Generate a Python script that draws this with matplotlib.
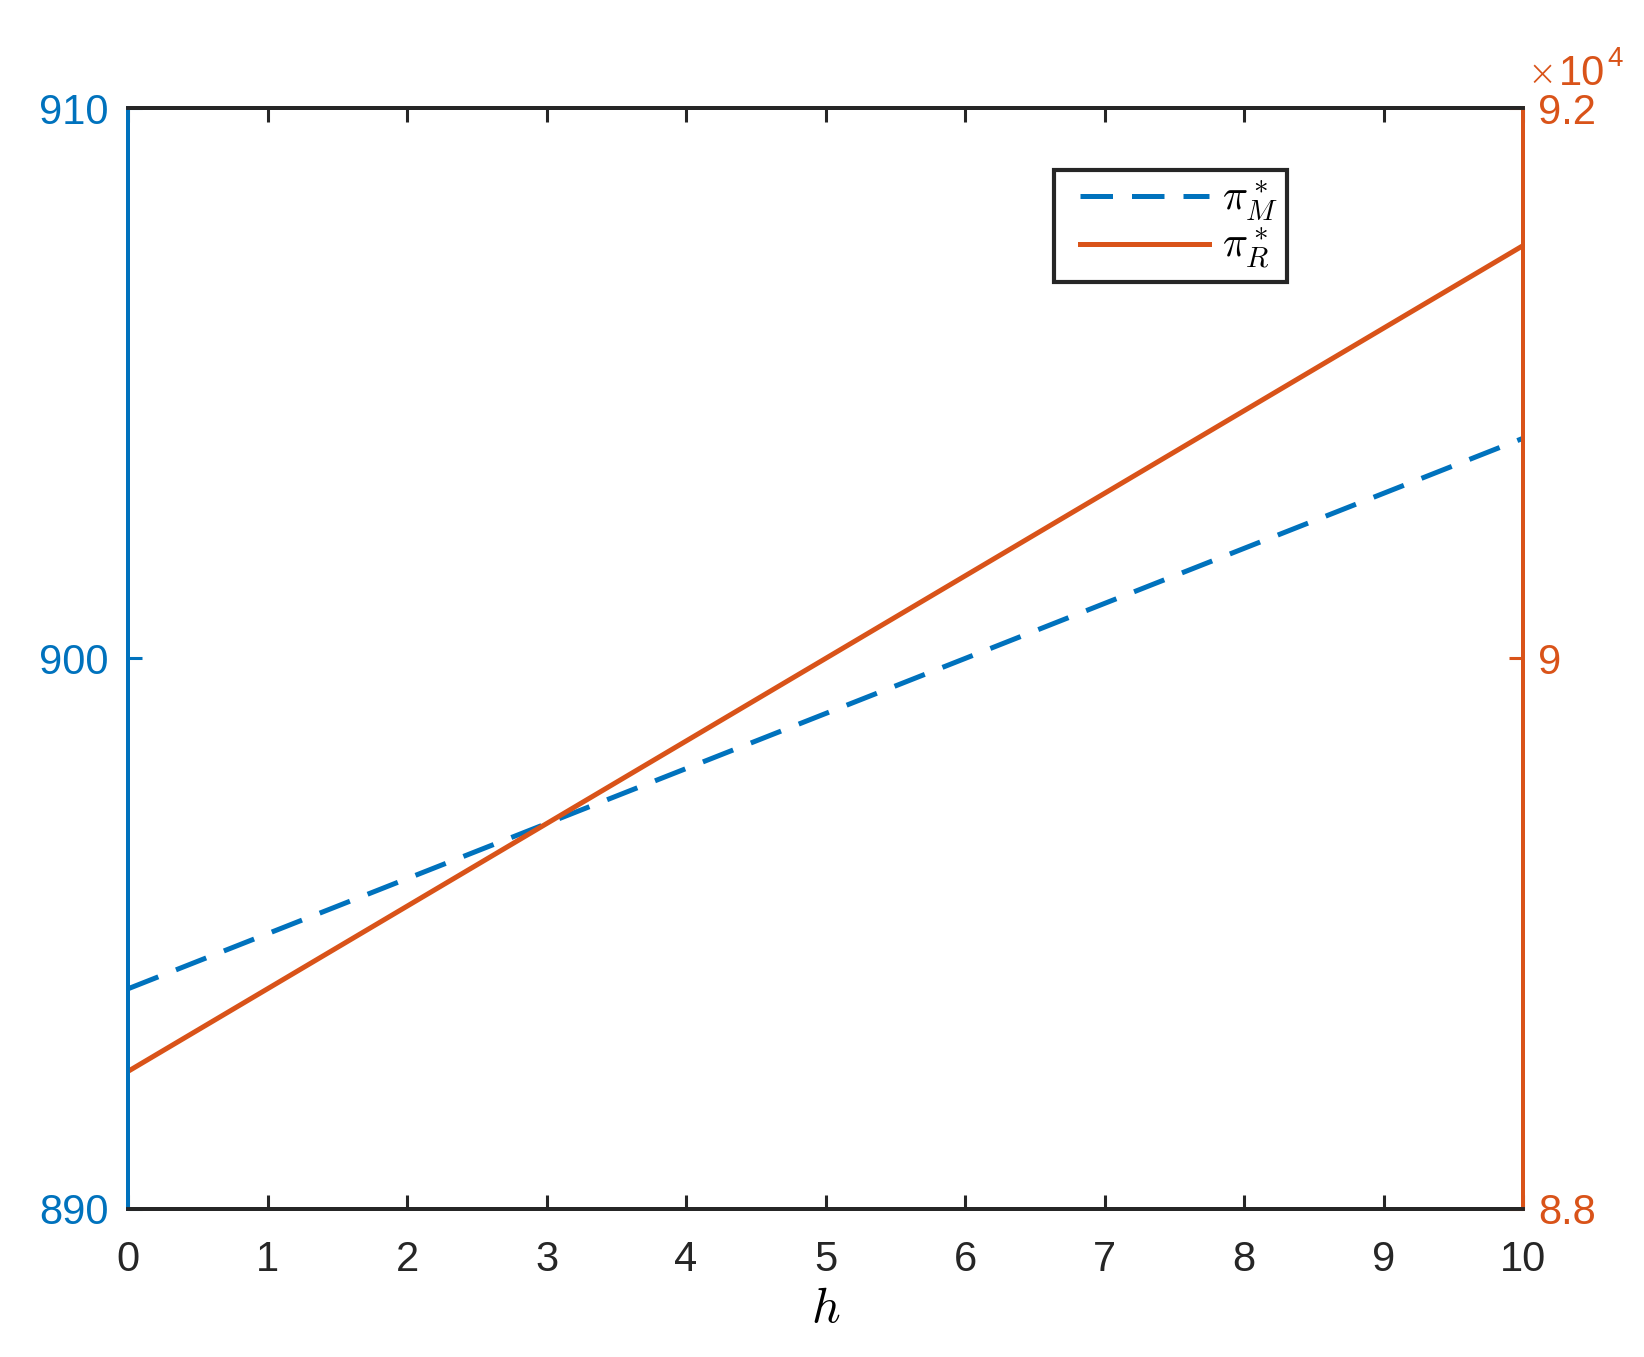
import matplotlib
matplotlib.use("Agg")
import matplotlib.pyplot as plt
from matplotlib.lines import Line2D
from matplotlib.legend_handler import HandlerLine2D
from matplotlib.ticker import FuncFormatter

# values
h = [0, 1, 2, 3, 4, 5, 6, 7, 8, 9, 10]
pi_M = [894.0, 895.0, 896.0, 897.0, 898.0, 899.0, 900.0, 901.0, 902.0, 903.0, 904.0]
pi_R = [88500, 88800, 89100, 89400, 89700, 90000, 90300, 90600, 90900, 91200, 91500]

left_ticks = [890, 900, 910]
right_ticks = [88000, 90000, 92000]

blue = "#0072BD"
orange = "#D95319"
dark = "#262626"

plt.rcParams['font.family'] = ['Liberation Sans', 'DejaVu Sans']
plt.rcParams['mathtext.fontset'] = 'cm'

fig = plt.figure(figsize=(16.44, 13.57), dpi=100)
ax = fig.add_axes([0.0779, 0.1091, 0.8485, 0.8113])
ax2 = ax.twinx()

l1, = ax.plot(h, pi_M, color=blue, lw=3.6, linestyle=(0, (6.5, 3.8)), label=r'$\pi^*_M$')
l2, = ax2.plot(h, pi_R, color=orange, lw=3.6, label=r'$\pi^*_R$')

ax.set_xlim(0, 10)
ax.set_ylim(890, 910)
ax2.set_ylim(88000, 92000)
ax.set_xticks(range(0, 11))
ax.set_yticks(left_ticks)
ax2.set_yticks(right_ticks)
ax2.yaxis.set_major_formatter(FuncFormatter(lambda v, p: '%g' % (v / 1e4)))

for a in (ax, ax2):
    a.spines['top'].set_color(dark)
    a.spines['bottom'].set_color(dark)
    a.spines['left'].set_color(blue)
    a.spines['right'].set_color(orange)
    for s in a.spines.values():
        s.set_linewidth(2.8)

ax.tick_params(axis='x', direction='in', length=10, width=2.2, colors=dark,
               labelsize=30, pad=22, top=True)
ax.tick_params(axis='y', direction='in', length=10, width=2.2, colors=blue,
               labelsize=30, pad=14)
ax2.tick_params(axis='y', direction='in', length=10, width=2.2, colors=orange,
                labelsize=30, pad=11)

ax.set_xlabel(r'$h$', fontsize=36, labelpad=5)

# exponent label of the right axis
fig.text(0.9290, 0.9374, '\u00d7', color=orange, fontsize=25, ha='left',
         va='baseline', family='DejaVu Sans', fontweight='light')
fig.text(0.9480, 0.9374, '10', color=orange, fontsize=30, ha='left', va='baseline')
fig.text(0.9775, 0.9514, '4', color=orange, fontsize=20, ha='left', va='baseline')

leg = ax.legend(handles=[l1, l2], loc='upper left', bbox_to_anchor=(0.664, 0.944),
                fontsize=30, frameon=True, fancybox=False, framealpha=1,
                handlelength=3.5, borderpad=0.22, labelspacing=0.05,
                handletextpad=0.3, borderaxespad=0,
                handler_map={Line2D: HandlerLine2D(xpad=0.4)})
leg.get_frame().set_edgecolor(dark)
leg.get_frame().set_linewidth(3)

fig.savefig("out.png", dpi=100)
